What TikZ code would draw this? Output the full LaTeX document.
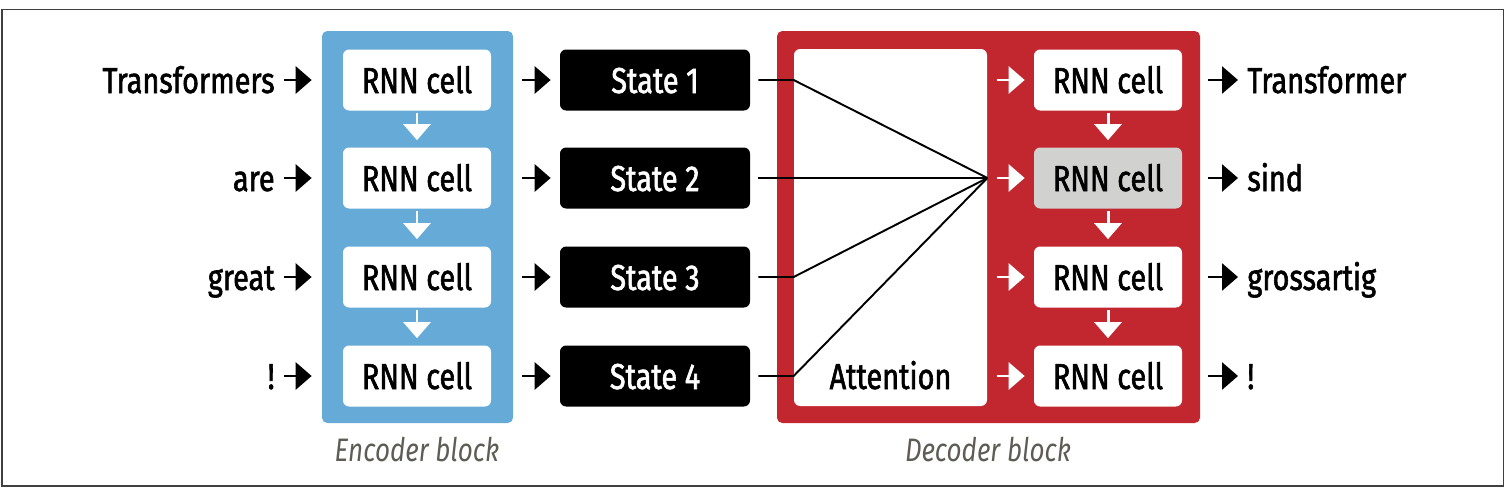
\documentclass[tikz,border=0pt]{standalone}
\usepackage{fontspec}
\setmainfont{Fira Sans}[FakeStretch=0.8, FakeBold=1.6]
\newfontfamily\capfont{Fira Sans}[FakeStretch=0.8]
\usetikzlibrary{arrows.meta, positioning, calc}
\definecolor{encblue}{HTML}{66AAD7}
\definecolor{decred}{HTML}{C2272F}
\definecolor{cellgray}{HTML}{D1D1CF}
\definecolor{capgray}{HTML}{5E5C55}

\begin{document}
\begin{tikzpicture}[
  txt/.style={font=\fontsize{20.5}{24}\selectfont, inner sep=0pt, text height=0.7cm, text depth=0.18cm},
  cell/.style={txt, fill=white, rounded corners=3.5pt, minimum width=2.96cm, minimum height=1.22cm},
  statebox/.style={txt, fill=black, text=white, rounded corners=3.5pt, minimum width=3.8cm, minimum height=1.22cm},
  blk/.style={-{Triangle[width=0.54cm,length=0.32cm]}, line width=1.7pt},
  wht/.style={blk, white},
  wire/.style={line width=1.1pt, line join=round},
  caption/.style={font=\capfont\fontsize{18.5}{22}\selectfont\itshape, text=capgray}
]
  \useasboundingbox (0,0) rectangle (30.24,-9.84);
  \draw[line width=0.8pt, black!75] (0.04,-0.19) rectangle (30.07,-9.72);

  % ENCODER
  \fill[encblue, rounded corners=3pt] (6.44,-0.62) rectangle (10.26,-8.46);
  \node[cell] (enc1) at (8.34,-1.6) {RNN cell};
  \node[cell] (enc2) at (8.34,-3.56) {RNN cell};
  \node[cell] (enc3) at (8.34,-5.54) {RNN cell};
  \node[cell] (enc4) at (8.34,-7.52) {RNN cell};
  \node[caption] (enclbl) at (8.34,-8.98) {Encoder block};

  \draw[wht] ($(enc1.south)+(0,-0.04)$) -- ($(enc2.north)+(0,0.14)$);
  \draw[wht] ($(enc2.south)+(0,-0.04)$) -- ($(enc3.north)+(0,0.14)$);
  \draw[wht] ($(enc3.south)+(0,-0.04)$) -- ($(enc4.north)+(0,0.14)$);

  % inputs
  \node[txt, anchor=east] (in1) at (5.5,-1.6) {Transformers};
  \node[txt, anchor=east] (in2) at (5.5,-3.56) {are};
  \node[txt, anchor=east] (in3) at (5.5,-5.54) {great};
  \node[txt, anchor=east] (in4) at (5.5,-7.52) {!};
  \draw[blk] ($(in1.east)+(0.18,0)$) -- ($(enc1.west)+(-0.62,0)$);
  \draw[blk] ($(in2.east)+(0.18,0)$) -- ($(enc2.west)+(-0.62,0)$);
  \draw[blk] ($(in3.east)+(0.18,0)$) -- ($(enc3.west)+(-0.62,0)$);
  \draw[blk] ($(in4.east)+(0.18,0)$) -- ($(enc4.west)+(-0.62,0)$);

  % STATES
  \node[statebox] (st1) at (13.1,-1.6) {State 1};
  \node[statebox] (st2) at (13.1,-3.56) {State 2};
  \node[statebox] (st3) at (13.1,-5.54) {State 3};
  \node[statebox] (st4) at (13.1,-7.52) {State 4};
  \draw[blk] ($(enc1.east)+(0.62,0)$) -- ($(st1.west)+(-0.18,0)$);
  \draw[blk] ($(enc2.east)+(0.62,0)$) -- ($(st2.west)+(-0.18,0)$);
  \draw[blk] ($(enc3.east)+(0.62,0)$) -- ($(st3.west)+(-0.18,0)$);
  \draw[blk] ($(enc4.east)+(0.62,0)$) -- ($(st4.west)+(-0.18,0)$);

  % DECODER
  \fill[decred, rounded corners=3pt] (15.54,-0.62) rectangle (24.0,-8.46);
  \node[fill=white, rounded corners=3.5pt, minimum width=3.86cm, minimum height=7.14cm] (att) at (17.81,-4.55) {};
  \node[txt] (attlbl) at (att.center |- enc4) {Attention};
  \node[cell] (dec1) at (22.16,-1.6) {RNN cell};
  \node[cell, fill=cellgray] (dec2) at (22.16,-3.56) {RNN cell};
  \node[cell] (dec3) at (22.16,-5.54) {RNN cell};
  \node[cell] (dec4) at (22.16,-7.52) {RNN cell};
  \node[caption] (declbl) at (19.76,-8.98) {Decoder block};

  \draw[wht] ($(dec1.south)+(0,-0.04)$) -- ($(dec2.north)+(0,0.14)$);
  \draw[wht] ($(dec2.south)+(0,-0.04)$) -- ($(dec3.north)+(0,0.14)$);
  \draw[wht] ($(dec3.south)+(0,-0.04)$) -- ($(dec4.north)+(0,0.14)$);
  \draw[wht] ($(dec1.west)+(-0.74,0)$) -- ($(dec1.west)+(-0.18,0)$);
  \draw[wht] ($(dec2.west)+(-0.74,0)$) -- ($(dec2.west)+(-0.18,0)$);
  \draw[wht] ($(dec3.west)+(-0.74,0)$) -- ($(dec3.west)+(-0.18,0)$);
  \draw[wht] ($(dec4.west)+(-0.74,0)$) -- ($(dec4.west)+(-0.18,0)$);

  % attention wires
  \coordinate (hub) at (att.east |- dec2);
  \draw[wire] ($(st1.east)+(0.16,0)$) -- (att.west |- st1) -- (hub);
  \draw[wire] ($(st2.east)+(0.16,0)$) -- (hub);
  \draw[wire] ($(st3.east)+(0.16,0)$) -- (att.west |- st3) -- (hub);
  \draw[wire] ($(st4.east)+(0.16,0)$) -- (att.west |- st4) -- (hub);

  % outputs
  \node[txt, anchor=west] (out1) at (24.94,-1.6) {Transformer};
  \node[txt, anchor=west] (out2) at (24.94,-3.56) {sind};
  \node[txt, anchor=west] (out3) at (24.94,-5.54) {grossartig};
  \node[txt, anchor=west] (out4) at (24.94,-7.52) {!};
  \draw[blk] ($(dec1.east)+(0.52,0)$) -- ($(out1.west)+(-0.18,0)$);
  \draw[blk] ($(dec2.east)+(0.52,0)$) -- ($(out2.west)+(-0.18,0)$);
  \draw[blk] ($(dec3.east)+(0.52,0)$) -- ($(out3.west)+(-0.18,0)$);
  \draw[blk] ($(dec4.east)+(0.52,0)$) -- ($(out4.west)+(-0.18,0)$);
\end{tikzpicture}
\end{document}
